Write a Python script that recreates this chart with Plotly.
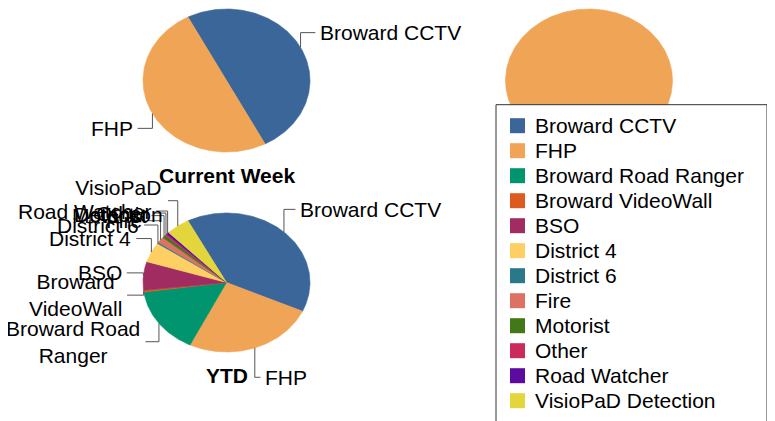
import textwrap
import numpy as np
import plotly.graph_objects as go

# ---------------- data ----------------
categories = ["Broward CCTV", "FHP", "Broward Road Ranger", "Broward VideoWall", "BSO",
              "District 4", "District 6", "Fire", "Motorist", "Other", "Road Watcher",
              "VisioPaD Detection"]
colors = ["#3a6699", "#f0a556", "#00956f", "#de5a1f", "#a02c61", "#fecf62",
          "#2a7889", "#dc7263", "#437818", "#cc2a5c", "#5c0b9e", "#e2d63c"]

current_week = [1, 1, 0, 0, 0, 0, 0, 0, 0, 0, 0, 0]
ytd = [397, 256, 157, 4, 67, 47, 3, 14, 7, 4, 5, 46]
third_period = [0, 1, 0, 0, 0, 0, 0, 0, 0, 0, 0, 0]

pie_titles = ["Current Week", "YTD", ""]

# ---------------- layout parameters ----------------
W, H = 775, 421
OFF = 8                      # page body margin of the browser
FONT = "Liberation Sans, Arial, sans-serif"
FS = 21
START_ANGLE = -27.5          # degrees clockwise from 12 o'clock
pies = [
    dict(values=current_week, title=pie_titles[0], cx=226.5, cy=80.5, rx=83.5, ry=71.5, labels=True),
    dict(values=ytd, title=pie_titles[1], cx=226.5, cy=282.5, rx=83.5, ry=69.5, labels=True),
    dict(values=third_period, title=pie_titles[2], cx=589.0, cy=80.5, rx=83.5, ry=71.5, labels=False),
]
LABEL_KX, LABEL_KY = 1.2, 1.45
LEADER_COLOR = "#555555"

fig = go.Figure()
annotations = []
shapes = []

for pie in pies:
    vals = np.array(pie["values"], dtype=float)
    total = vals.sum()
    cx, cy, rx, ry = pie["cx"], pie["cy"], pie["rx"], pie["ry"]
    a = START_ANGLE
    lx, ly = [], []
    for name, v, col in zip(categories, vals, colors):
        if v <= 0:
            continue
        span = 360.0 * v / total
        a0, a1 = a, a + span
        a = a1
        n = max(3, int(np.ceil(span)) + 1)
        th = np.radians(np.linspace(a0, a1, n))
        xs = np.concatenate([[cx], cx + rx * np.sin(th), [cx]])
        ys = np.concatenate([[cy], cy - ry * np.cos(th), [cy]])
        fig.add_trace(go.Scatter(x=xs, y=ys, mode="lines", fill="toself",
                                 fillcolor=col, line=dict(color=col, width=0.6),
                                 hoverinfo="skip", showlegend=False))
        if not pie["labels"]:
            continue
        mid = np.radians((a0 + a1) / 2.0)
        s, c = np.sin(mid), np.cos(mid)
        ex, ey = cx + rx * s, cy - ry * c
        px, py = cx + rx * LABEL_KX * s, cy - ry * LABEL_KY * c
        lx += [ex, ex, px, None]
        ly += [ey, py, py, None]
        side = 1 if s >= 0 else -1
        annotations.append(dict(
            x=px + 3 * side, y=py, xref="x", yref="y",
            text="<br>".join(textwrap.wrap(name, 12)),
            xanchor="left" if side > 0 else "right", yanchor="middle",
            align="center", showarrow=False,
            font=dict(family=FONT, size=FS, color="#000000")))
    if lx:
        fig.add_trace(go.Scatter(x=lx, y=ly, mode="lines",
                                 line=dict(color=LEADER_COLOR, width=1),
                                 hoverinfo="skip", showlegend=False))
    if pie["title"]:
        annotations.append(dict(
            x=cx, y=cy + ry + 23.5, xref="x", yref="y",
            text="<b>%s</b>" % pie["title"], showarrow=False,
            xanchor="center", yanchor="middle",
            font=dict(family=FONT, size=FS, color="#000000")))

# ---------------- legend (drawn over the right pie) ----------------
LEG_X0, LEG_X1, LEG_Y0 = 496, 767, 104.7
ROW = 25
shapes.append(dict(type="rect", xref="x", yref="y", x0=LEG_X0, x1=LEG_X1,
                   y0=LEG_Y0, y1=H + 40, fillcolor="white",
                   line=dict(color="#333333", width=1), layer="above"))
for i, (name, col) in enumerate(zip(categories, colors)):
    yc = LEG_Y0 + 21 + ROW * i
    shapes.append(dict(type="rect", xref="x", yref="y", x0=510, x1=525,
                       y0=yc - 7.5, y1=yc + 7.5, fillcolor=col,
                       line=dict(width=0), layer="above"))
    annotations.append(dict(x=532.5, y=yc, xref="x", yref="y", text=name,
                            xanchor="left", yanchor="middle", showarrow=False,
                            font=dict(family=FONT, size=FS, color="#000000")))

fig.update_layout(
    width=W, height=H, margin=dict(l=0, r=0, t=0, b=0),
    paper_bgcolor="white", plot_bgcolor="white",
    showlegend=False, annotations=annotations, shapes=shapes,
    xaxis=dict(range=[OFF, W + OFF], visible=False, fixedrange=True),
    yaxis=dict(range=[H + OFF, OFF], visible=False, fixedrange=True),
)

fig.write_html("out.html", config={"displayModeBar": False})
